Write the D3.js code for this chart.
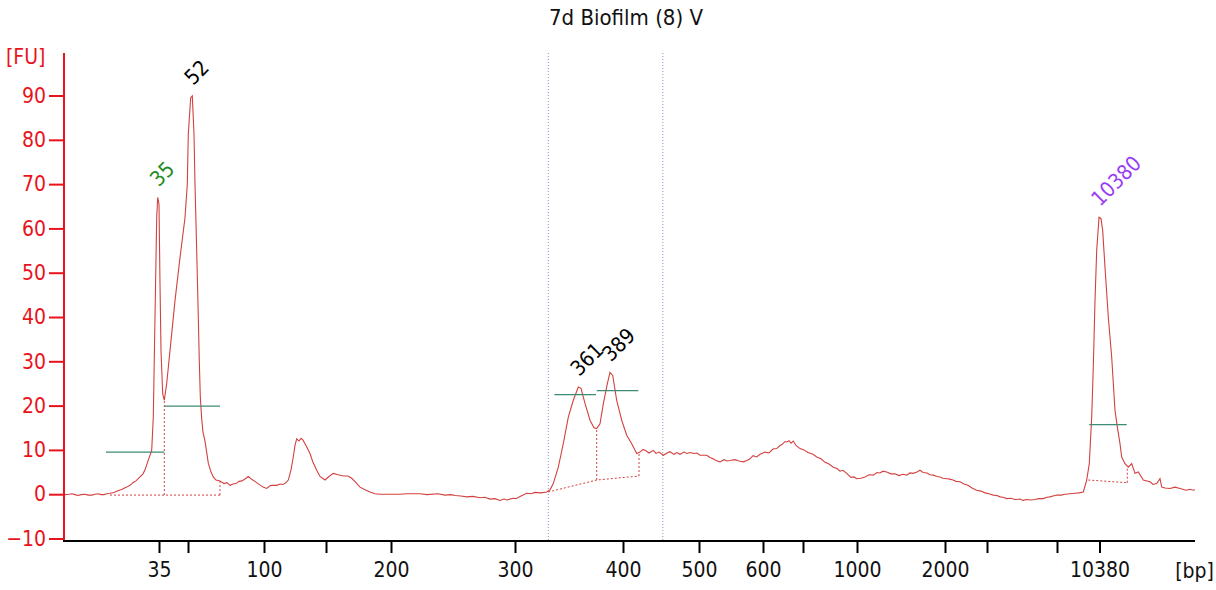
<!DOCTYPE html>
<html>
<head>
<meta charset="utf-8">
<script src="https://cdn.jsdelivr.net/npm/d3@7"></script>
<style>
  html, body { margin: 0; padding: 0; background: #fff; }
  svg { display: block; }
  text { font-family: "DejaVu Sans Condensed", "DejaVu Sans", sans-serif; }
</style>
</head>
<body>
<svg id="chart" width="1216" height="590"></svg>
<script>
// ---------- data ----------
const chartTitle = "7d Biofilm (8) V";
// electropherogram trace: [migration time (s), fluorescence (FU)]
const trace = [
  [20.00,-0.1],[20.40,0.0],[20.70,0.1],[21.00,-0.1],[21.30,-0.3],[21.60,-0.1],[22.00,0.0],[22.30,-0.2],[22.70,-0.2],[23.00,0.0],
  [23.30,0.1],[23.60,-0.1],[23.90,-0.1],[24.20,0.1],[24.50,0.2],[24.90,0.4],[25.30,0.8],[25.70,1.1],[26.17,1.6],[26.50,2.0],
  [26.80,2.6],[27.10,3.0],[27.50,3.9],[27.80,4.6],[28.00,5.5],[28.33,7.7],[28.67,9.9],[28.83,17.4],[29.00,40],[29.17,62.5],
  [29.27,67],[29.40,65.5],[29.50,47.5],[29.60,32.4],[29.77,22.7],[29.93,21.2],[30.17,25],[30.50,32.4],[31.00,43.7],[31.50,53.4],
  [32.00,62.4],[32.23,70],[32.33,81.3],[32.57,89.5],[32.73,89.9],[32.90,81.3],[33.00,70],[33.17,55],[33.33,40],[33.43,30],
  [33.53,22],[33.67,17],[33.80,14],[34.00,12],[34.33,7],[34.60,5],[34.83,3.9],[35.10,3.2],[35.50,3.0],[35.90,2.4],
  [36.20,2.6],[36.50,2.0],[36.80,2.3],[37.10,2.4],[37.40,2.9],[37.70,3.0],[38.10,3.6],[38.33,4.0],[38.70,3.3],[39.00,2.9],
  [39.30,2.4],[39.80,1.6],[40.17,1.3],[40.50,1.9],[40.70,2.0],[41.17,2.0],[41.50,2.3],[41.80,2.2],[42.10,2.6],[42.33,3.2],
  [42.60,5.5],[42.83,8.4],[43.00,11],[43.17,12.5],[43.40,12.0],[43.60,12.6],[43.80,12.2],[44.10,11],[44.50,9.2],[44.80,7.2],
  [45.17,5.4],[45.50,4.0],[46.00,3.2],[46.40,4.0],[46.83,4.7],[47.30,4.4],[47.83,4.1],[48.30,4.1],[48.67,3.6],[49.10,2.6],
  [49.50,1.6],[50.00,1.0],[50.50,0.5],[51.00,0.1],[51.50,0],[53.50,0],[54.20,0.1],[55.50,0.1],[56.20,-0.1],[57.30,0.1],
  [58.00,-0.2],[58.60,-0.1],[59.00,-0.3],[59.60,-0.4],[60.17,-0.6],[60.80,-0.5],[61.50,-0.8],[62.00,-0.7],[62.50,-1.1],[63.00,-1.0],
  [63.50,-1.4],[63.90,-1.1],[64.20,-1.3],[64.80,-0.9],[65.10,-1.0],[65.50,-0.5],[66.17,0.2],[66.60,0.1],[67.00,0.4],[67.60,0.3],
  [68.17,0.5],[68.50,1.0],[68.83,2.4],[69.33,6.1],[69.83,11.4],[70.33,17.4],[70.83,21.2],[71.33,24.2],[71.60,23.9],[72.00,20.5],
  [72.50,16.7],[72.90,15.0],[73.17,14.8],[73.50,15.9],[73.83,20.4],[74.23,24.9],[74.50,27.5],[74.77,26.8],[75.17,21.2],[75.67,16.7],
  [76.17,13.3],[76.67,11.4],[77.17,9.2],[77.50,9.5],[77.80,10.1],[78.10,9.8],[78.40,9.3],[78.83,9.9],[79.10,9.2],[79.40,9.5],
  [79.83,8.8],[80.20,9.3],[80.50,9.6],[80.90,9.0],[81.20,9.4],[81.50,9.0],[81.90,9.5],[82.20,9.2],[82.50,9.4],[82.90,9.2],
  [83.20,9.3],[83.50,8.8],[84.17,8.8],[84.50,8.3],[84.80,8.0],[85.10,7.6],[85.50,7.3],[85.90,7.8],[86.20,7.5],[86.50,7.6],
  [87.00,7.8],[87.40,7.5],[87.83,7.3],[88.20,7.6],[88.50,8.0],[88.80,8.7],[89.17,8.4],[89.50,9.0],[90.00,9.5],[90.40,9.3],
  [90.80,10.2],[91.17,10.3],[91.50,11.0],[91.70,11.2],[92.00,11.9],[92.17,11.8],[92.40,12.1],[92.60,11.5],[92.83,12.0],[93.10,11.0],
  [93.50,10.3],[93.90,10.0],[94.30,9.4],[94.80,9.0],[95.17,8.4],[95.60,8.0],[96.00,7.2],[96.40,6.8],[96.83,6.1],[97.20,5.8],
  [97.50,5.2],[97.80,5.4],[98.17,4.7],[98.60,3.8],[98.90,3.9],[99.17,3.5],[99.60,3.6],[100.00,3.9],[100.40,4.4],[100.83,4.3],
  [101.20,4.9],[101.50,4.8],[101.80,5.2],[102.17,5.0],[102.60,4.6],[103.00,4.6],[103.40,4.2],[103.80,4.5],[104.17,4.3],[104.50,4.8],
  [104.80,4.7],[105.20,5.0],[105.50,5.4],[105.80,4.9],[106.20,4.8],[106.50,4.4],[106.83,4.3],[107.20,4.0],[107.50,3.9],[107.80,3.6],
  [108.17,3.5],[108.50,3.4],[108.80,3.2],[109.10,2.9],[109.50,2.8],[109.90,2.3],[110.30,2.0],[110.70,1.4],[111.17,0.9],[111.60,0.7],
  [112.00,0.3],[112.40,0.1],[112.83,-0.2],[113.20,-0.3],[113.50,-0.6],[113.80,-0.7],[114.17,-1.0],[114.60,-0.9],[115.00,-1.2],[115.50,-1.1],
  [115.80,-1.4],[116.17,-1.2],[116.60,-1.3],[117.00,-1.2],[117.40,-1.0],[117.83,-1.0],[118.20,-0.7],[118.50,-0.6],[118.80,-0.4],[119.17,-0.2],
  [119.60,-0.2],[120.00,0.0],[120.50,0.1],[121.00,0.2],[121.40,0.3],[121.83,0.5],[122.17,3.2],[122.43,6.9],[122.67,17.4],[122.83,28.7],
  [123.00,43.7],[123.17,55],[123.40,62.5],[123.60,62.2],[123.77,59.5],[124.00,51.2],[124.33,40],[124.67,30.9],[125.00,18.9],[125.23,15.2],
  [125.50,11.4],[125.67,8.4],[126.00,6.9],[126.33,6.1],[126.67,6.9],[127.00,4.7],[127.33,5.0],[127.83,3.2],[128.20,3.0],[128.50,2.8],
  [128.80,2.2],[129.17,2.4],[129.50,3.5],[129.67,1.6],[130.00,1.4],[130.50,1.3],[131.00,1.6],[131.50,1.3],[132.10,0.9],[132.50,1.1],
  [132.83,0.9],[133.00,1.0]
];

// ladder ticks on the x axis (time position and size label)
const xTickTimes  = [29.4, 32.3, 39.9, 46.1, 52.6, 65.0, 75.8, 83.4, 89.8, 93.8, 99.2, 108.0, 112.2, 119.2, 123.45];
const xTickLabels = ["35", "", "100", "", "200", "300", "400", "500", "600", "", "1000", "2000", "", "", "10380"];
const yTickValues = [-10, 0, 10, 20, 30, 40, 50, 60, 70, 80, 90];

// called peaks
const peakLabels = ["35", "52", "361", "389", "10380"];
const peakTime   = [29.27, 32.73, 71.33, 74.50, 123.40];
const peakFU     = [67, 89.9, 24.2, 27.5, 62.5];
const peakColor  = ["#1e8c1e", "#000000", "#000000", "#000000", "#9b3cf5"];

// peak width (half-height) markers
const widthStart = [24.10, 29.93, 68.94, 73.17, 122.43];
const widthEnd   = [29.93, 35.50, 73.10, 77.33, 126.17];
const widthFU    = [9.5, 19.9, 22.5, 23.4, 15.7];

// integration baselines (polyline time / FU) and drop lines
const baseTime = [[24.50, 35.50], [68.33, 73.17, 77.40], [122.33, 126.23]];
const baseFU   = [[-0.2, -0.2], [0.5, 3.2, 4.1], [3.2, 2.6]];
const dropTime = [29.93, 35.50, 73.17, 77.40, 126.23];
const dropLow  = [-0.2, -0.2, 3.2, 4.1, 2.6];
const dropHigh = [21.2, 3.0, 14.8, 9.3, 5.8];

// region markers
const regionTimes = [68.33, 79.78];

// ---------- drawing ----------
const FONT = '"DejaVu Sans Condensed", "DejaVu Sans", sans-serif';
const FS = 21;
const svg = d3.select("#chart");
const x = d3.scaleLinear().domain([20, 133]).range([65, 1195]);
const y = d3.scaleLinear().domain([-10, 99.6]).range([538.5, 53]);
const axisRed = "#e8141b";

// title
svg.append("text").attr("x", 626).attr("y", 25).attr("text-anchor", "middle")
  .attr("font-size", 22).attr("fill", "#111").text(chartTitle);

// region dotted lines
svg.selectAll("line.region").data(regionTimes).enter().append("line")
  .attr("x1", d => x(d)).attr("x2", d => x(d))
  .attr("y1", y(99.6)).attr("y2", 540)
  .attr("stroke", "#8c8cc4").attr("stroke-width", 1).attr("stroke-dasharray", "1,2");

// trace
svg.append("path").datum(trace)
  .attr("fill", "none").attr("stroke", "#d2413f").attr("stroke-width", 1.1)
  .attr("d", d3.line().x(d => x(d[0])).y(d => y(d[1])));

// integration baselines
baseTime.forEach((ts, k) => {
  svg.append("path").datum(ts.map((t, i) => [t, baseFU[k][i]]))
    .attr("fill", "none").attr("stroke", "#d2413f").attr("stroke-width", 1)
    .attr("stroke-dasharray", "2,2")
    .attr("d", d3.line().x(d => x(d[0])).y(d => y(d[1])));
});
svg.selectAll("line.drop").data(dropTime).enter().append("line")
  .attr("x1", d => x(d)).attr("x2", d => x(d))
  .attr("y1", (d, i) => y(dropLow[i])).attr("y2", (d, i) => y(dropHigh[i]))
  .attr("stroke", "#d2413f").attr("stroke-width", 1).attr("stroke-dasharray", "2,2");

// width markers
svg.selectAll("line.width").data(widthFU).enter().append("line")
  .attr("x1", (d, i) => x(widthStart[i])).attr("x2", (d, i) => x(widthEnd[i]))
  .attr("y1", d => y(d)).attr("y2", d => y(d))
  .attr("stroke", "#3f8a74").attr("stroke-width", 1.2);

// peak labels
svg.selectAll("text.peak").data(peakLabels).enter().append("text")
  .attr("transform", (d, i) => `translate(${x(peakTime[i]) + 1},${y(peakFU[i]) - 10}) rotate(-45)`)
  .attr("font-size", FS).attr("fill", (d, i) => peakColor[i]).text(d => d);

// y axis
const yAxis = svg.append("g").attr("transform", "translate(64,0)")
  .call(d3.axisLeft(y).tickValues(yTickValues).tickSize(15).tickSizeOuter(0).tickPadding(3));
yAxis.select(".domain").remove();
yAxis.selectAll(".tick line").attr("stroke", axisRed).attr("stroke-width", 2);
yAxis.selectAll(".tick text").attr("fill", axisRed).attr("font-size", FS).style("font-family", FONT);
yAxis.append("line").attr("x1", 0).attr("x2", 0).attr("y1", y(99.6)).attr("y2", 541)
  .attr("stroke", axisRed).attr("stroke-width", 2);
svg.append("text").attr("x", 6).attr("y", 64).attr("font-size", FS).attr("fill", axisRed).text("[FU]");

// x axis
const xAxis = svg.append("g").attr("transform", "translate(0,541)")
  .call(d3.axisBottom(x).tickValues(xTickTimes).tickFormat((d, i) => xTickLabels[i])
    .tickSize(12).tickSizeOuter(0).tickPadding(9));
xAxis.select(".domain").remove();
xAxis.append("line").attr("x1", 63).attr("x2", 1195).attr("y1", 0).attr("y2", 0)
  .attr("stroke", "#000").attr("stroke-width", 2);
xAxis.selectAll(".tick line").attr("stroke", "#000").attr("stroke-width", 2);
xAxis.selectAll(".tick text").attr("fill", "#111").attr("font-size", FS).style("font-family", FONT);
svg.append("text").attr("x", 1214).attr("y", 578).attr("text-anchor", "end")
  .attr("font-size", FS).attr("fill", "#111").text("[bp]");
</script>
</body>
</html>
